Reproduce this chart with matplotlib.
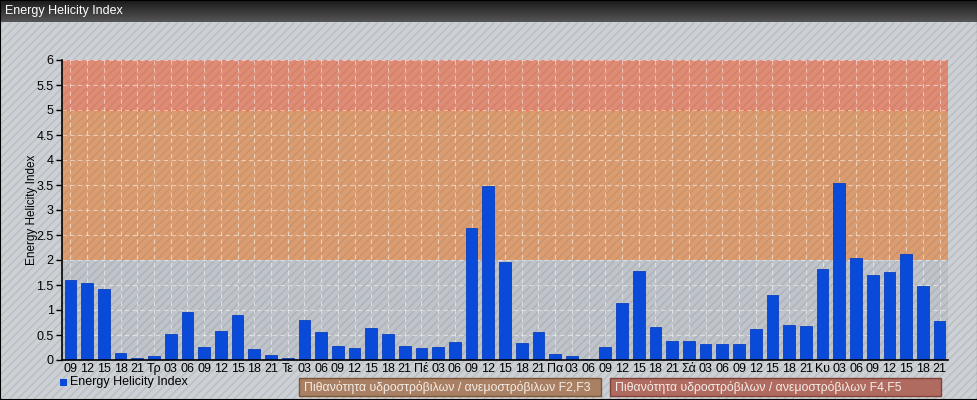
import numpy as np
import matplotlib
matplotlib.use("Agg")
import matplotlib.pyplot as plt
from matplotlib.patches import Rectangle
from matplotlib.colors import LinearSegmentedColormap

plt.rcParams['font.family'] = ['Liberation Sans', 'DejaVu Sans']
plt.rcParams['hatch.linewidth'] = 1.0

# ---- data ----
labels = ["09", "12", "15", "18", "21",
          "Τρ", "03", "06", "09", "12", "15", "18", "21",
          "Τε", "03", "06", "09", "12", "15", "18", "21",
          "Πέ", "03", "06", "09", "12", "15", "18", "21",
          "Πα", "03", "06", "09", "12", "15", "18", "21",
          "Σά", "03", "06", "09", "12", "15", "18", "21",
          "Κυ", "03", "06", "09", "12", "15", "18", "21"]
values = [1.60, 1.55, 1.43, 0.14, 0.05,
          0.09, 0.52, 0.97, 0.26, 0.58, 0.91, 0.22, 0.10,
          0.05, 0.81, 0.56, 0.28, 0.25, 0.64, 0.53, 0.28,
          0.24, 0.26, 0.37, 2.65, 3.49, 1.97, 0.35, 0.56,
          0.12, 0.08, 0.02, 0.27, 1.15, 1.78, 0.67, 0.38,
          0.38, 0.32, 0.33, 0.33, 0.62, 1.30, 0.71, 0.68,
          1.83, 3.55, 2.04, 1.71, 1.77, 2.12, 1.49, 0.79]
yticks = [0, 0.5, 1, 1.5, 2, 2.5, 3, 3.5, 4, 4.5, 5, 5.5, 6]
ytick_labels = ["0", "0.5", "1", "1.5", "2", "2.5", "3", "3.5", "4", "4.5", "5", "5.5", "6"]
bands = [(0, 2, '#bcc2c9'), (2, 5, '#dc9b6b'), (5, 6, '#e2876f')]
title = "Energy Helicity Index"
series_name = "Energy Helicity Index"
legend_boxes = [("Πιθανότητα υδροστρόβιλων / ανεμοστρόβιλων F2,F3", '#a98063', '#7a5538'),
                ("Πιθανότητα υδροστρόβιλων / ανεμοστρόβιλων F4,F5", '#b06b61', '#7d4238')]

W, H = 978, 400
fig = plt.figure(figsize=(W / 100, H / 100), dpi=100)
fig.patch.set_facecolor('#cdd1d5')

def fx(px):
    return px / W

def fy(py):
    return 1 - py / H

# hatched background
fig.add_artist(Rectangle((0, 0), 1, 1, transform=fig.transFigure,
                         facecolor='#cdd1d5', edgecolor='#b9bec4', hatch='////',
                         linewidth=0, zorder=-10))

# title bar
tax = fig.add_axes([0, fy(22), 1, 22 / H])
grad = np.linspace(0, 1, 50).reshape(-1, 1)
cm = LinearSegmentedColormap.from_list('tb', ['#1a1a1a', '#555555'])
tax.imshow(grad, aspect='auto', cmap=cm, extent=[0, 1, 0, 1], origin='upper')
tax.set_axis_off()
tax.text(5 / W, 0.5, title, color='white', fontsize=9, va='center', ha='left',
         transform=tax.transAxes)

# main axes
ax = fig.add_axes([fx(62), fy(360), fx(948) - fx(62), 300 / H])
ax.patch.set_alpha(0)
n = len(values)
x = np.arange(n)
for lo, hi, c in bands:
    ax.axhspan(lo, hi, facecolor=c, edgecolor='none', alpha=0.85 if lo == 0 else 0.95, zorder=0.1)
ax.axhline(5, color='#e57a55', lw=1, zorder=0.15)
ax.add_patch(Rectangle((0, 0), 1, 1, transform=ax.transAxes, facecolor='none',
                       edgecolor=(0.35, 0.3, 0.3, 0.12), hatch='////', linewidth=0, zorder=0.2))
ax.bar(x, values, width=0.7, color='#0a4ad8', edgecolor='#0a3fc0', linewidth=0.6, zorder=2)
ax.set_xlim(-0.5, n - 0.5)
ax.set_ylim(0, 6)
ax.set_yticks(yticks)
ax.set_yticklabels(ytick_labels, fontsize=9)
ax.set_xticks(x)
ax.set_xticklabels(labels, fontsize=9)
ax.tick_params(axis='x', length=0, pad=2)
ax.tick_params(axis='y', length=4, width=1, direction='out', pad=2)
ax.grid(True, color='white', linestyle=(0, (4, 3)), linewidth=0.8, alpha=0.5)
ax.set_axisbelow(True)
for s in ['top', 'right']:
    ax.spines[s].set_visible(False)
ax.spines['left'].set_linewidth(1.2)
ax.spines['bottom'].set_linewidth(1.2)
ax.set_ylabel(series_name, fontsize=8.5)
ax.yaxis.set_label_coords((38 - 62) / 886, 0.5)

# legend
fig.add_artist(Rectangle((fx(60), fy(386)), 7 / W, 7 / H, transform=fig.transFigure,
                         facecolor='#0a4ad8', edgecolor='none'))
fig.text(fx(70), fy(382), series_name, fontsize=9, va='center', ha='left')

box_pos = [(299, 601), (610, 941)]
for (txt, fc, ec), (x0, x1) in zip(legend_boxes, box_pos):
    fig.add_artist(Rectangle((fx(x0), fy(396)), fx(x1) - fx(x0), 18 / H,
                             transform=fig.transFigure, facecolor=fc, edgecolor=ec,
                             linewidth=1))
    fig.text(fx(x0 + 5), fy(387), txt, fontsize=8.8, color='#f4eee8', va='center', ha='left')

# outer border
fig.add_artist(Rectangle((0.0005, 0.001), 0.999, 0.998, transform=fig.transFigure,
                         facecolor='none', edgecolor='black', linewidth=1.5, zorder=20))

fig.savefig('out.png', dpi=100)
